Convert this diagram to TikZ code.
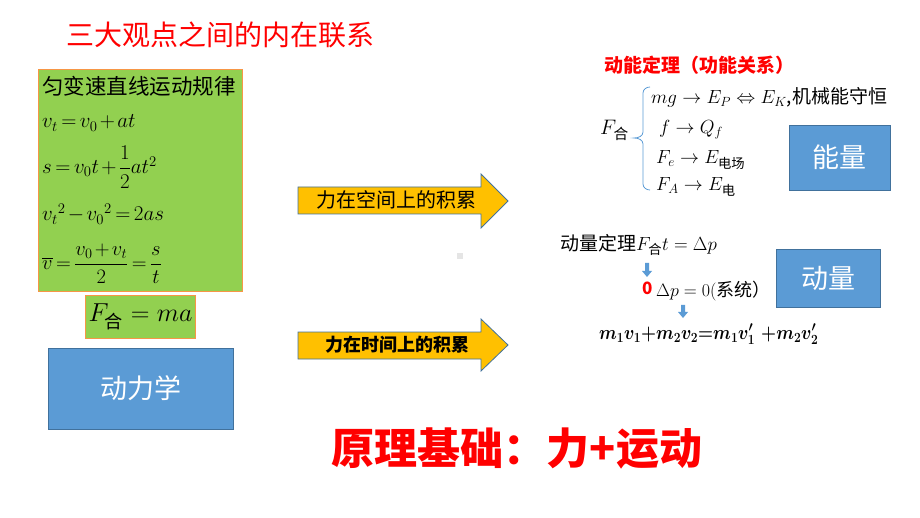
\RequirePackage{fix-cm}
\documentclass[tikz,border=0pt]{standalone}
\usepackage{amsmath,amssymb}
\usepackage{bm}
\usepackage{graphicx}
\usepackage{fontspec}
\setmainfont{Noto Sans CJK SC}
\usepackage{tikz}

\definecolor{kgreen}{RGB}{146,208,80}
\definecolor{korange}{RGB}{247,150,70}
\definecolor{kblue}{RGB}{91,155,213}
\definecolor{kblueline}{RGB}{65,113,156}
\definecolor{kgold}{RGB}{255,192,0}
\newcommand{\fsz}[1]{\fontsize{#1}{#1}\selectfont}
\newcommand{\tightmath}{\medmuskip=2mu\relax\thickmuskip=3mu\relax}
\newcommand{\nomath}{\medmuskip=0mu\relax\thickmuskip=0mu\relax}

\tikzset{
  greenbox/.style={fill=kgreen, draw=korange, line width=1pt},
  bluebox/.style={fill=kblue, draw=kblueline, line width=0.8pt, text=white, font=\fsz{27}},
  goldarrow/.style={fill=kgold, draw=kblueline, line width=0.8pt},
  formula/.style={anchor=west, inner sep=0pt},
  redtext/.style={text=red, inner sep=0pt}
}

\begin{document}
\begin{tikzpicture}[x=1pt,y=-1pt]
        \useasboundingbox (0,0) rectangle (920,518);
        \node[redtext, font=\fsz{28}] (title) at (220,35) {三大观点之间的内在联系};
        % kinematics and dynamics
        \draw[greenbox] (38,70) rectangle (242,292);
        \node[formula, font=\fsz{21.5}] (rule) at (42,86) {匀变速直线运动规律};
        \node[formula, font=\fsz{21}\tightmath] (vt) at (42,123) {$v_t=v_0+at$};
        \node[formula, font=\fsz{21}\tightmath] (disp) at (42,167) {$s=v_0t+\dfrac{1}{2}at^2$};
        \node[formula, font=\fsz{21}\tightmath] (vsq) at (42,214) {$v_t{}^2-v_0{}^2=2as$};
        \node[formula, font=\fsz{20.5}\tightmath] (vbar) at (42,264) {$\overline{v}=\dfrac{v_0+v_t}{2}=\dfrac{s}{t}$};
        \node[greenbox, minimum width=107pt, minimum height=42pt, font=\fsz{26}] (newton) at (140.5,317) {$F_{\text{合}}=ma$};
        \node[bluebox, minimum width=185pt, minimum height=81pt] (dyn) at (140.5,388.5) {动力学};
        % the two integrals
        \draw[goldarrow] (298,187) -- (481,187) -- (481,174) -- (508,201) --
        (481,228) -- (481,214) -- (298,214) -- cycle;
        \node[font=\fsz{20}] (space) at (396,200) {力在空间上的积累};
        \draw[goldarrow] (298,332) -- (481,332) -- (481,319) -- (508,345) --
        (481,371) -- (481,359) -- (298,359) -- cycle;
        \node[font=\fsz{18}\bfseries] (time) at (397,345) {力在时间上的积累};
        \fill[gray!20] (457,253) rectangle (463,259);
        % energy
        \node[redtext, anchor=west, font=\fsz{19}\bfseries] (workthm) at (604,65) {动能定理（功能关系）};
        \node[formula, font=\fsz{21}] (Fhe) at (600,130) {$F_{\text{合}}$};
        \draw[kblue, line width=0.8pt] (650,87) to[out=180,in=90] (643,93) -- (643,132)
        to[out=270,in=0] (634,138) to[out=0,in=90] (643,144) -- (643,184)
        to[out=270,in=180] (650,190);
        \node[formula, font=\fsz{19}] (mg) at (651,97) {$mg\rightarrow E_P\Leftrightarrow E_K$,机械能守恒};
        \node[formula, font=\fsz{19}] (fric) at (659,130) {$f\rightarrow Q_f$};
        \node[formula, font=\fsz{19}] (Fe) at (656,160) {$F_e\rightarrow E_{\text{电场}}$};
        \node[formula, font=\fsz{19}] (FA) at (656,187) {$F_A\rightarrow E_{\text{电}}$};
        \node[bluebox, minimum width=101pt, minimum height=65pt] (energy) at (839.5,157.5) {能量};
        % momentum
        \node[formula, font=\fsz{19}] (impulse) at (560,245) {动量定理$F_{\text{合}}t=\Delta p$};
        \fill[kblue] (645,263) -- (649,263) -- (649,271) -- (652,271) -- (647,277)
        -- (642,271) -- (645,271) -- cycle;
        \node[formula, text=red, font=\fsz{17}\bfseries] (zero) at (642,288) {0};
        \node[formula, font=\fsz{18}] (cons) at (656,291) {$\Delta p=0($系统）};
        \fill[kblue] (681,305) -- (685,305) -- (685,312) -- (688,312) -- (683,318)
        -- (678,312) -- (681,312) -- cycle;
        \node[formula, font=\fsz{20}\nomath] (mv) at (599,334)
        {\resizebox{219pt}{\height}{$\bm{m_1v_1+m_2v_2=m_1v_1'}\hspace{7pt}\bm{+m_2v_2'}$}};
        \node[bluebox, minimum width=104pt, minimum height=58pt] (momentum) at (828,278) {动量};
        % basis
        \node[redtext, font=\fsz{43}\bfseries] (basis) at (517,448) {原理基础：力+运动};
      \end{tikzpicture}
\end{document}
